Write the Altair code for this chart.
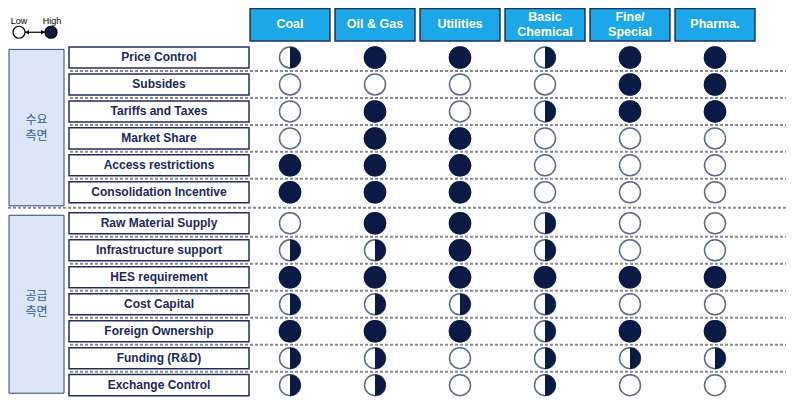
import altair as alt
import pandas as pd

# ---------------- data ----------------
industries = ["Coal", "Oil & Gas", "Utilities", "Basic\nChemical", "Fine/\nSpecial", "Pharma."]
group_names = ["수요\n측면", "공급\n측면"]
demand_factors = ["Price Control", "Subsides", "Tariffs and Taxes", "Market Share",
                  "Access restrictions", "Consolidation Incentive"]
supply_factors = ["Raw Material Supply", "Infrastructure support", "HES requirement",
                  "Cost Capital", "Foreign Ownership", "Funding (R&D)", "Exchange Control"]
# 0 = Low (empty ball), 0.5 = half, 1 = High (full ball)
demand_levels = [
    [0.5, 1, 1, 0.5, 1, 1],
    [0, 0, 0, 0, 1, 1],
    [0, 1, 0, 0.5, 1, 1],
    [0, 1, 1, 0, 0, 0],
    [1, 1, 1, 0, 0, 0],
    [1, 1, 1, 0, 0, 0],
]
supply_levels = [
    [0, 1, 1, 0.5, 0, 0],
    [0.5, 0.5, 1, 0.5, 0, 0],
    [1, 1, 1, 1, 1, 1],
    [0.5, 0.5, 0.5, 0.5, 0, 0],
    [1, 1, 1, 0.5, 1, 1],
    [0.5, 0.5, 0, 0.5, 0.5, 0.5],
    [0.5, 0.5, 0, 0.5, 0, 0],
]
legend_labels = ["Low", "High"]

# ---------------- layout (in column / row units) ----------------
W, H = 780, 389
COL0, COLSTEP = 290.0, 85.0
ROW0, ROWSTEP = 54.0, 27.8
GAP = 0.15
YTOP, YBOT = 3.0, 404.0
PX_PER_SLOT = ROWSTEP * H / (YBOT - YTOP)


def U(px):
    return (px - COL0) / COLSTEP


def S(py):
    return (py - ROW0) / ROWSTEP


XS = alt.Scale(domain=[U(8), U(788)], nice=False, zero=False)
YS = alt.Scale(domain=[S(YTOP), S(YBOT)], nice=False, zero=False, reverse=True)

NAVY = "#0B1A44"
LINE = "#5B6B88"
TEXT = "#1B2A56"

groups = [(demand_factors, demand_levels), (supply_factors, supply_levels)]
bottom_pad = [0.5, 0.3]
rows, cells, gboxes = [], [], []
idx = 0
for g, (factors, levels) in enumerate(groups):
    slots = []
    for f, lv in zip(factors, levels):
        slot = idx + g * GAP
        slots.append(slot)
        rows.append({"name": f, "y": slot, "g": g})
        for k, v in enumerate(lv):
            cells.append({"x": k, "y": slot, "level": v})
        idx += 1
    top, bot = slots[0] - 0.3, slots[-1] + bottom_pad[g]
    nlines = group_names[g].count("\n") + 1
    gboxes.append({"name": group_names[g], "y": top, "y2": bot,
                   "ym": (top + bot) / 2 - (nlines - 1) * 8 / PX_PER_SLOT})

rows_df = pd.DataFrame(rows)
cells_df = pd.DataFrame(cells)
gbox_df = pd.DataFrame(gboxes)
gbox_df["x"] = U(9)
gbox_df["x2"] = U(64)
gbox_df["xm"] = (U(9) + U(64)) / 2

rows_df["x"] = U(69)
rows_df["x2"] = U(249)
rows_df["xm"] = (U(69) + U(249)) / 2
rows_df["y1"] = rows_df["y"] - 0.39
rows_df["y2"] = rows_df["y"] + 0.39

hdr_df = pd.DataFrame({"name": industries, "k": list(range(len(industries)))})
hdr_df["x"] = hdr_df["k"] - 0.47
hdr_df["x2"] = hdr_df["k"] + 0.47
hdr_df["y"] = S(3.5)
hdr_df["y2"] = S(37)
hdr_df["ym"] = [S(20) - (n.count("\n")) * 7.5 / PX_PER_SLOT for n in industries]

# dotted separators
seps = []
for a, b in zip(rows[:-1], rows[1:]):
    ym = (a["y"] + b["y"]) / 2
    if a["g"] == b["g"]:
        seps.append({"x": U(70), "x2": U(786), "y": ym})
    else:
        seps.append({"x": U(8), "x2": U(786), "y": ym})
sep_df = pd.DataFrame(seps)

leg_df = pd.DataFrame({"name": legend_labels, "x": [U(19), U(51)], "tx": [U(19), U(52)],
                       "y": [S(28)] * 2, "ty": [S(16)] * 2, "fillc": ["white", NAVY]})


def X(f="x"):
    return alt.X(f"{f}:Q", scale=XS, axis=None)


def Y(f="y"):
    return alt.Y(f"{f}:Q", scale=YS, axis=None)


FONT = "Liberation Sans"

group_rect = alt.Chart(gbox_df).mark_rect(fill="#DCE6F6", stroke="#2E4677", strokeWidth=1).encode(
    x=X(), x2="x2:Q", y=Y(), y2="y2:Q")
group_text = alt.Chart(gbox_df).mark_text(font="Noto Sans CJK KR", fontSize=12, color="#3A5C94",
                                          lineBreak="\n", lineHeight=16, baseline="middle").encode(
    x=X("xm"), y=Y("ym"), text="name:N")

seps_rule = alt.Chart(sep_df).mark_rule(color="#8A8A8A", strokeWidth=2, strokeDash=[3, 2]).encode(
    x=X(), x2="x2:Q", y=Y())

label_rect = alt.Chart(rows_df).mark_rect(fill="white", stroke="#1F3060", strokeWidth=1.5).encode(
    x=X(), x2="x2:Q", y=Y("y1"), y2="y2:Q")
label_text = alt.Chart(rows_df).mark_text(font=FONT, fontSize=12, fontWeight="bold", color=TEXT,
                                          baseline="middle").encode(
    x=X("xm"), y=Y(), text="name:N")

hdr_rect = alt.Chart(hdr_df).mark_rect(fill="#1CA7E8", stroke="#1F3060", strokeWidth=1.5).encode(
    x=X(), x2="x2:Q", y=Y(), y2="y2:Q")
hdr_text = alt.Chart(hdr_df).mark_text(font=FONT, fontSize=12.5, fontWeight="bold", color="white",
                                       lineBreak="\n", lineHeight=15, baseline="middle").encode(
    x=X("k"), y=Y("ym"), text="name:N")

base_ball = alt.Chart(cells_df).mark_point(shape="circle", filled=True, fill="white", stroke=LINE,
                                           strokeWidth=1.5, size=441, opacity=1).encode(x=X(), y=Y())
full_ball = alt.Chart(cells_df).transform_filter("datum.level == 1").mark_point(
    shape="circle", filled=True, fill=NAVY, stroke=NAVY, strokeWidth=1.5, size=441, opacity=1).encode(
    x=X(), y=Y())
half_ball = alt.Chart(cells_df).transform_filter("datum.level == 0.5").mark_point(
    shape="M0,-1A1,1,0,0,1,0,1Z", filled=True, fill=NAVY, size=460, opacity=1).encode(
    x=X(), y=Y())

leg_line = alt.Chart(pd.DataFrame({"x": [U(25)], "x2": [U(45)], "y": [S(28)]})).mark_rule(
    color="black", strokeWidth=1.2).encode(x=X(), x2="x2:Q", y=Y())
leg_heads = alt.Chart(pd.DataFrame({"x": [U(27), U(43)], "y": [S(28)] * 2,
                                    "s": ["triangle-left", "triangle-right"]})).mark_point(
    filled=True, color="black", size=22, opacity=1).encode(
    x=X(), y=Y(), shape=alt.Shape("s:N", scale=None))
leg_balls = alt.Chart(leg_df).mark_point(shape="circle", filled=True, stroke="black", strokeWidth=1.2,
                                         size=144, opacity=1).encode(
    x=X(), y=Y(), fill=alt.Fill("fillc:N", scale=None))
leg_text = alt.Chart(leg_df).mark_text(font=FONT, fontSize=9, color="black", baseline="middle").encode(
    x=X("tx"), y=Y("ty"), text="name:N")

chart = alt.layer(
    group_rect, group_text, seps_rule, label_rect, label_text, hdr_rect, hdr_text,
    base_ball, full_ball, half_ball, leg_line, leg_heads, leg_balls, leg_text
).properties(width=W, height=H, padding=0, autosize="none").configure_view(stroke=None)

chart.save("out.html", embed_options={"renderer": "svg", "actions": False})
